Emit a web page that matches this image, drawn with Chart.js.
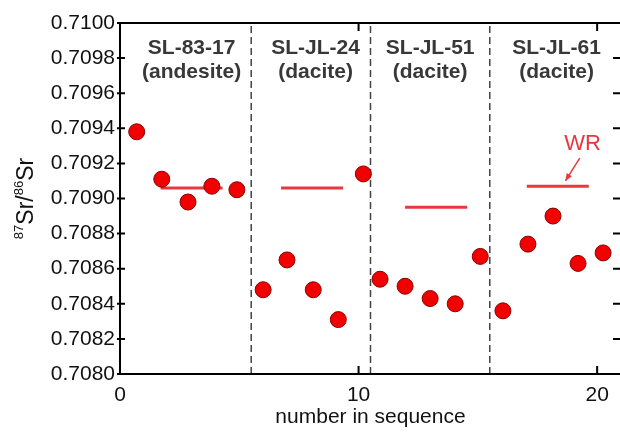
<!DOCTYPE html>
<html lang="en">
<head>
  <meta charset="UTF-8" />
  <title>87Sr/86Sr in sequence</title>
  <script src="https://cdn.jsdelivr.net/npm/chart.js"></script>
  <style>
    body {
      margin: 0;
      background: #fff;
      overflow: hidden;
    }
    .wrap {
      width: 622px;
      height: 435px;
    }
  </style>
</head>
<body>
  <div class="wrap"><canvas id="srChart"></canvas></div>

  <script>
    // crystal analyses
    const seqNo = [0.7, 1.75, 2.85, 3.85, 4.9, 6.0, 7.0, 8.1, 9.15, 10.2,
                   10.9, 11.95, 13.0, 14.05, 15.1, 16.05, 17.1, 18.15, 19.2, 20.25];
    const srRatio = [0.70938, 0.70911, 0.70898, 0.70907, 0.70905,
                     0.70848, 0.70865, 0.70848, 0.70831, 0.70914,
                     0.70854, 0.70850, 0.70843, 0.70840, 0.70867,
                     0.70836, 0.70874, 0.70890, 0.70863, 0.70869];

    // whole rock values per sample
    const samples = ['SL-83-17', 'SL-JL-24', 'SL-JL-51', 'SL-JL-61'];
    const rockTypes = ['(andesite)', '(dacite)', '(dacite)', '(dacite)'];
    const wrRatio = [0.70906, 0.70906, 0.70895, 0.70907];
    const wrFrom = [1.7, 6.75, 11.95, 17.05];
    const wrTo = [4.3, 9.35, 14.55, 19.65];

    const dividers = [5.5, 10.5, 15.5];
    const xTicks = [0, 10, 20];
    const yTicks = [0.7080, 0.7082, 0.7084, 0.7086, 0.7088, 0.7090,
                    0.7092, 0.7094, 0.7096, 0.7098, 0.7100];

    const FONT = "'Liberation Sans', Arial, sans-serif";
    const RED = '#e8383e';

    const datasets = [{
      type: 'scatter',
      data: seqNo.map((x, i) => ({ x: x, y: srRatio[i] })),
      backgroundColor: '#f20000',
      borderColor: '#8a0000',
      borderWidth: 1,
      pointRadius: 8,
      order: 0
    }];
    wrRatio.forEach((v, i) => {
      datasets.push({
        type: 'line',
        data: [{ x: wrFrom[i], y: v }, { x: wrTo[i], y: v }],
        borderColor: RED,
        borderWidth: 3,
        pointRadius: 0,
        order: 1
      });
    });
    dividers.forEach(d => {
      datasets.push({
        type: 'line',
        data: [{ x: d, y: yTicks[0] }, { x: d, y: yTicks[yTicks.length - 1] }],
        borderColor: '#444',
        borderWidth: 1.5,
        borderDash: [7, 4],
        pointRadius: 0,
        order: 2
      });
    });

    const decor = {
      id: 'decor',
      afterDraw(chart) {
        const ctx = chart.ctx;
        const a = chart.chartArea;
        const xs = chart.scales.x, ys = chart.scales.y;
        ctx.save();

        // box and inward ticks
        ctx.strokeStyle = '#000';
        ctx.lineWidth = 2;
        ctx.strokeRect(a.left, a.top, a.right - a.left, a.bottom - a.top);
        ctx.beginPath();
        yTicks.forEach(v => {
          const py = ys.getPixelForValue(v);
          ctx.moveTo(a.left - 3, py); ctx.lineTo(a.left + 5, py);
          ctx.moveTo(a.right - 8, py); ctx.lineTo(a.right, py);
        });
        xTicks.forEach(v => {
          const px = xs.getPixelForValue(v);
          ctx.moveTo(px, a.bottom); ctx.lineTo(px, a.bottom - 8);
          ctx.moveTo(px, a.top); ctx.lineTo(px, a.top + 8);
        });
        ctx.stroke();

        // sample names
        const labelAt = [3.0, 8.2, 13.0, 18.3];
        ctx.fillStyle = '#383838';
        ctx.font = 'bold 21px ' + FONT;
        ctx.textAlign = 'center';
        ctx.textBaseline = 'middle';
        samples.forEach((s, i) => {
          const px = xs.getPixelForValue(labelAt[i]);
          ctx.fillText(s, px, 48);
          ctx.fillText(rockTypes[i], px, 72);
        });

        // WR note with arrow
        ctx.fillStyle = RED;
        ctx.strokeStyle = RED;
        ctx.font = '22px ' + FONT;
        ctx.fillText('WR', xs.getPixelForValue(19.39), ys.getPixelForValue(0.70931));
        const x0 = xs.getPixelForValue(19.27), y0 = ys.getPixelForValue(0.70923);
        const x1 = xs.getPixelForValue(18.67), y1 = ys.getPixelForValue(0.70910);
        ctx.lineWidth = 1.5;
        ctx.beginPath();
        ctx.moveTo(x0, y0); ctx.lineTo(x1, y1);
        ctx.stroke();
        const ang = Math.atan2(y1 - y0, x1 - x0);
        ctx.beginPath();
        ctx.moveTo(x1, y1);
        ctx.lineTo(x1 - 8 * Math.cos(ang - 0.4), y1 - 8 * Math.sin(ang - 0.4));
        ctx.lineTo(x1 - 8 * Math.cos(ang + 0.4), y1 - 8 * Math.sin(ang + 0.4));
        ctx.closePath();
        ctx.fill();

        // y title with superscripts
        ctx.translate(33, (a.top + a.bottom) / 2);
        ctx.rotate(-Math.PI / 2);
        ctx.fillStyle = '#111';
        ctx.textAlign = 'left';
        ctx.textBaseline = 'alphabetic';
        const parts = [['87', true], ['Sr/', false], ['86', true], ['Sr', false]];
        const fontOf = sup => (sup ? '13px ' : '23px ') + FONT;
        let total = 0;
        parts.forEach(p => { ctx.font = fontOf(p[1]); total += ctx.measureText(p[0]).width; });
        let cx = -total / 2;
        parts.forEach(p => {
          ctx.font = fontOf(p[1]);
          ctx.fillText(p[0], cx, p[1] ? -10 : 0);
          cx += ctx.measureText(p[0]).width;
        });
        ctx.restore();
      }
    };

    new Chart(document.getElementById('srChart'), {
      type: 'scatter',
      data: { datasets: datasets },
      options: {
        responsive: true,
        maintainAspectRatio: false,
        animation: false,
        layout: { autoPadding: false, padding: { top: 23, right: 1, left: 0, bottom: 0 } },
        plugins: { legend: { display: false }, tooltip: { enabled: false } },
        scales: {
          x: {
            type: 'linear',
            min: 0,
            max: 21,
            afterBuildTicks: s => { s.ticks = xTicks.map(v => ({ value: v })); },
            afterFit: s => { s.height = 61; s.paddingLeft = 0; s.paddingRight = 0; },
            grid: { display: false, drawTicks: false },
            border: { display: false },
            ticks: { font: { family: FONT, size: 21 }, color: '#111', padding: 9, maxRotation: 0 },
            title: {
              display: true,
              text: 'number in sequence',
              font: { family: FONT, size: 21 },
              color: '#111',
              padding: { top: 0, bottom: 5 }
            }
          },
          y: {
            min: 0.7080,
            max: 0.7100,
            afterBuildTicks: s => { s.ticks = yTicks.map(v => ({ value: v })); },
            afterFit: s => { s.width = 120; s.paddingTop = 0; s.paddingBottom = 0; },
            grid: { display: false, drawTicks: false },
            border: { display: false },
            ticks: {
              font: { family: FONT, size: 21 },
              color: '#111',
              padding: 5,
              callback: v => v.toFixed(4)
            }
          }
        }
      },
      plugins: [decor]
    });
  </script>
</body>
</html>
